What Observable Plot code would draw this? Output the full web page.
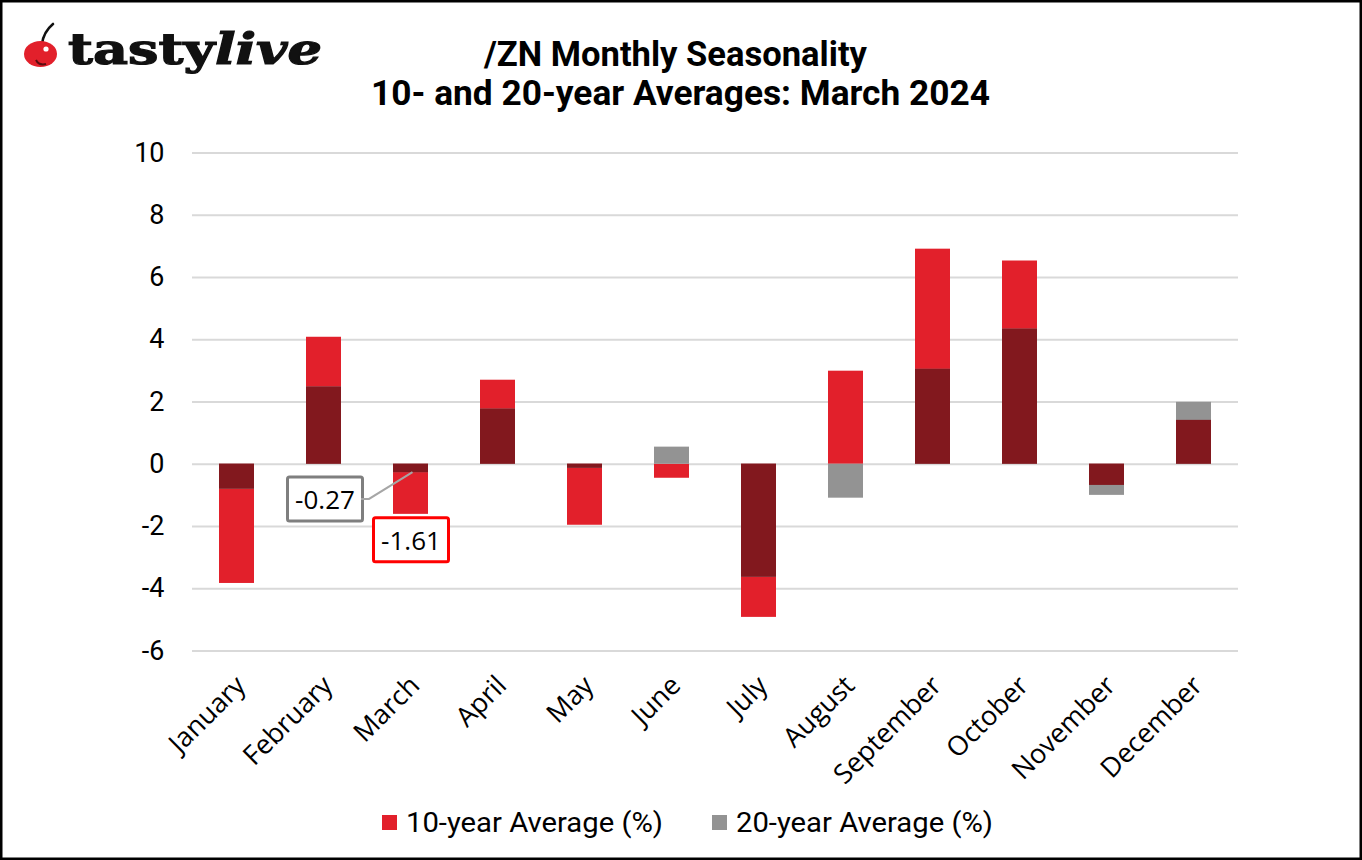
<!DOCTYPE html>
<html>
<head>
<meta charset="utf-8">
<script src="https://cdn.jsdelivr.net/npm/d3@7"></script>
<script src="https://cdn.jsdelivr.net/npm/@observablehq/plot@0.6"></script>
<style>
  html, body { margin: 0; padding: 0; background: #fff; }
  #frame { position: relative; width: 1362px; height: 860px; overflow: hidden; background: #fff; }
  #chart { position: absolute; left: 0; top: 0; }
  #overlay { position: absolute; left: 0; top: 0; pointer-events: none; }
</style>
</head>
<body>
<div id="frame">
  <div id="chart"></div>
  <svg id="overlay" width="1362" height="860" xmlns="http://www.w3.org/2000/svg"></svg>
</div>
<script>
// ---- data ----
const months = ["January", "February", "March", "April", "May", "June",
                "July", "August", "September", "October", "November", "December"];
const avg10 = [-3.83, 4.08, -1.61, 2.70, -1.96, -0.45, -4.92, 2.99, 6.91, 6.53, -0.68, 1.41];
const avg20 = [-0.80, 2.48, -0.27, 1.77, -0.13, 0.55, -3.63, -1.09, 3.05, 4.34, -1.00, 1.99];
const yTicks = [-6, -4, -2, 0, 2, 4, 6, 8, 10];
const seriesNames = ["10-year Average (%)", "20-year Average (%)"];
const seriesColors = ["#E2202B", "#939393"];
const overlapColor = "#82181E";
const titleLines = ["/ZN Monthly Seasonality", "10- and 20-year Averages: March 2024"];
const callouts = [
  {month: "March", value: -0.27, label: "-0.27", kind: "gray"},
  {month: "March", value: -1.61, label: "-1.61", kind: "red"}
];

// ---- derived table ----
const rows = months.map((m, i) => ({month: m, v10: avg10[i], v20: avg20[i]}));
const overlapRows = rows
  .filter(d => Math.sign(d.v10) === Math.sign(d.v20))
  .map(d => ({month: d.month, ov: Math.sign(d.v10) * Math.min(Math.abs(d.v10), Math.abs(d.v20))}));

const chart = Plot.plot({
  width: 1362,
  height: 790,
  marginTop: 152.5,
  marginBottom: 139.5,
  marginLeft: 192,
  marginRight: 124,
  style: {fontFamily: "Roboto, sans-serif", background: "transparent", overflow: "visible", color: "#000"},
  x: {domain: months, paddingInner: 0.6, paddingOuter: 0.3, label: null},
  y: {domain: [-6, 10], label: null},
  marks: [
    Plot.ruleY(yTicks, {stroke: "#d9d9d9", strokeWidth: 2}),
    Plot.barY(rows, {x: "month", y1: 0, y2: "v10", fill: seriesColors[0]}),
    Plot.barY(rows, {x: "month", y1: 0, y2: "v20", fill: seriesColors[1]}),
    Plot.barY(overlapRows, {x: "month", y1: 0, y2: "ov", fill: overlapColor}),
    Plot.axisY({ticks: yTicks, tickSize: 0, tickPadding: 28, fontSize: 27, tickFormat: d => String(d), label: null}),
    Plot.axisX({tickRotate: -45, tickSize: 0, tickPadding: 30, dx: 4, fontSize: 27, fontFamily: "Open Sans, sans-serif", label: null}),
    Plot.text(callouts.filter(d => d.kind === "gray"), {
      x: "month", y: "value", text: "label", dx: -86, dy: 28,
      fontSize: 26, fontFamily: "Open Sans, sans-serif", fill: "#000", className: "ann-gray"
    }),
    Plot.text(callouts.filter(d => d.kind === "red"), {
      x: "month", y: "value", text: "label", dx: 0, dy: 27,
      fontSize: 26, fontFamily: "Open Sans, sans-serif", fill: "#000", className: "ann-red"
    })
  ]
});
document.getElementById("chart").appendChild(chart);

// ---- callout boxes ----
const NS = "http://www.w3.org/2000/svg";
function boxify(cls, stroke) {
  const out = [];
  chart.querySelectorAll("g." + cls + " text").forEach(t => {
    const b = t.getBBox();
    const w = 75, h = 44;
    const cx = b.x + b.width / 2, cy = b.y + b.height / 2;
    const r = document.createElementNS(NS, "rect");
    r.setAttribute("x", cx - w / 2);
    r.setAttribute("y", cy - h / 2);
    r.setAttribute("width", w);
    r.setAttribute("height", h);
    r.setAttribute("rx", 2);
    r.setAttribute("fill", "#fff");
    r.setAttribute("stroke", stroke);
    r.setAttribute("stroke-width", 3);
    if (t.getAttribute("transform")) r.setAttribute("transform", t.getAttribute("transform"));
    t.parentNode.insertBefore(r, t);
    out.push(r);
  });
  return out;
}
const grayBoxes = boxify("ann-gray", "#7f7f7f");
boxify("ann-red", "#FF0000");

// leader line from the gray box to the bar end
const xs = chart.scale("x"), ys = chart.scale("y");
const svgRect = chart.getBoundingClientRect();
grayBoxes.forEach((r, i) => {
  const d = callouts.filter(c => c.kind === "gray")[i];
  const br = r.getBoundingClientRect();
  const bx = br.right - svgRect.left - 1.5;
  const by = (br.top + br.bottom) / 2 - svgRect.top;
  const tx = xs.apply(d.month) + xs.bandwidth / 2 + 2;
  const ty = ys.apply(d.value);
  const p = document.createElementNS(NS, "polyline");
  p.setAttribute("points", `${bx},${by} ${bx + 8},${by} ${tx},${ty}`);
  p.setAttribute("fill", "none");
  p.setAttribute("stroke", "#a6a6a6");
  p.setAttribute("stroke-width", 2);
  chart.appendChild(p);
});

// ---- overlay: logo, title, legend, frame ----
const ov = d3.select("#overlay");
// cherry logo
ov.append("path")
  .attr("d", "M42,44 C43,36 47,29 53,24")
  .attr("fill", "none").attr("stroke", "#111").attr("stroke-width", 2.6).attr("stroke-linecap", "round");
ov.append("ellipse").attr("cx", 40.5).attr("cy", 54).attr("rx", 16.5).attr("ry", 13).attr("fill", "#E2202B");
ov.append("path").attr("d", "M36,60 C38,64 42,65 46,64").attr("fill", "none")
  .attr("stroke", "#5a0c10").attr("stroke-width", 2);
ov.append("circle").attr("cx", 46).attr("cy", 49).attr("r", 2.6).attr("fill", "#fff");
const logo = ov.append("text")
  .attr("x", 68).attr("y", 64)
  .attr("font-family", "DejaVu Serif, serif").attr("font-weight", "bold").attr("font-size", 43)
  .attr("textLength", 254).attr("lengthAdjust", "spacingAndGlyphs").attr("fill", "#111")
  .attr("stroke", "#111").attr("stroke-width", 1.2);
logo.append("tspan").text("tasty");
logo.append("tspan").attr("font-style", "italic").text("live");

// titles
const titleSpec = [
  {cx: 675.5, y: 66, len: 383},
  {cx: 680.5, y: 105, len: 619}
];
titleLines.forEach((t, i) => {
  ov.append("text")
    .attr("x", titleSpec[i].cx).attr("y", titleSpec[i].y)
    .attr("text-anchor", "middle")
    .attr("font-family", "Roboto, sans-serif").attr("font-weight", "bold").attr("font-size", 35)
    .attr("textLength", titleSpec[i].len).attr("lengthAdjust", "spacingAndGlyphs")
    .attr("fill", "#000")
    .text(t);
});

// legend
const legendX = [382, 712];
seriesNames.forEach((name, i) => {
  ov.append("rect").attr("x", legendX[i]).attr("y", 815).attr("width", 15).attr("height", 15).attr("fill", seriesColors[i]);
  ov.append("text").attr("x", legendX[i] + 24).attr("y", 832)
    .attr("font-family", "Roboto, sans-serif").attr("font-size", 28)
    .attr("textLength", 257).attr("lengthAdjust", "spacingAndGlyphs")
    .attr("fill", "#000").text(name);
});

// outer frame
ov.append("rect").attr("x", 1.25).attr("y", 1.25).attr("width", 1359.5).attr("height", 857.5)
  .attr("fill", "none").attr("stroke", "#000").attr("stroke-width", 2.5);
</script>
</body>
</html>
